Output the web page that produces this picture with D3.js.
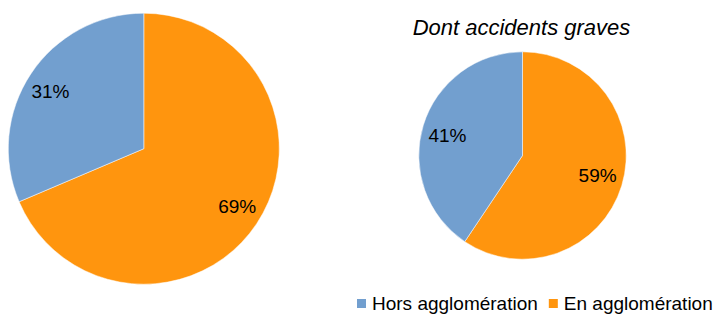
<!DOCTYPE html>
<html>
<head>
<meta charset="utf-8">
<script src="https://cdn.jsdelivr.net/npm/d3@7"></script>
<style>
  body { margin: 0; background: #fff; }
  text { font-family: "Liberation Sans", Arial, sans-serif; fill: #000; }
</style>
</head>
<body>
<div id="chart"></div>
<script>
// categories and values (share in %)
var categories = ["En agglomération", "Hors agglomération"];
var legendOrder = ["Hors agglomération", "En agglomération"];
var allAccidents = [68.6, 31.4];
var graveAccidents = [59.4, 40.6];
var subTitle = "Dont accidents graves";

var colors = { "En agglomération": "#ff950e", "Hors agglomération": "#729fcf" };
var pct = d3.format(".0f");

var width = 720, height = 314;

var svg = d3.select("#chart")
    .append("svg")
    .attr("width", width)
    .attr("height", height);

var pie = d3.pie().sort(null).value(function (d) { return d.value; });

function drawPie(values, cx, cy, r) {
    var data = categories.map(function (c, i) { return { name: c, value: values[i] }; });
    var arc = d3.arc().innerRadius(0).outerRadius(r);
    var labelArc = d3.arc().innerRadius(r - 26).outerRadius(r - 26);
    var shift = 2 * Math.PI / 180; // labels sit slightly before the mid angle

    var g = svg.append("g")
        .attr("transform", "translate(" + cx + "," + cy + ")");

    var slices = g.selectAll("g.slice")
        .data(pie(data))
        .enter()
        .append("g")
        .attr("class", "slice");

    slices.append("path")
        .attr("d", arc)
        .attr("fill", function (d) { return colors[d.data.name]; })
        .attr("stroke", "#fff")
        .attr("stroke-width", 0.5);

    slices.append("text")
        .attr("transform", function (d) {
            var c = labelArc.centroid({ startAngle: d.startAngle - shift, endAngle: d.endAngle - shift });
            return "translate(" + c + ")";
        })
        .attr("dy", "0.35em")
        .style("text-anchor", "middle")
        .style("font-size", "19px")
        .text(function (d) { return pct(d.data.value) + "%"; });
}

drawPie(allAccidents, 143.8, 148.7, 135.5);
drawPie(graveAccidents, 522.5, 155.5, 103.7);

// sub chart title
svg.append("text")
    .attr("x", 521.5)
    .attr("y", 35)
    .style("text-anchor", "middle")
    .style("font-size", "22px")
    .style("font-style", "italic")
    .text(subTitle);

// legend
var legend = svg.append("g").attr("transform", "translate(357,299)");
var lx = 0;
legendOrder.forEach(function (name) {
    var item = legend.append("g").attr("transform", "translate(" + lx + ",0)");
    item.append("rect")
        .attr("width", 9)
        .attr("height", 9)
        .attr("fill", colors[name]);
    var t = item.append("text")
        .attr("x", 15)
        .attr("y", 11)
        .style("font-size", "19px")
        .text(name);
    lx += 15 + t.node().getComputedTextLength() + 11;
});
</script>
</body>
</html>
